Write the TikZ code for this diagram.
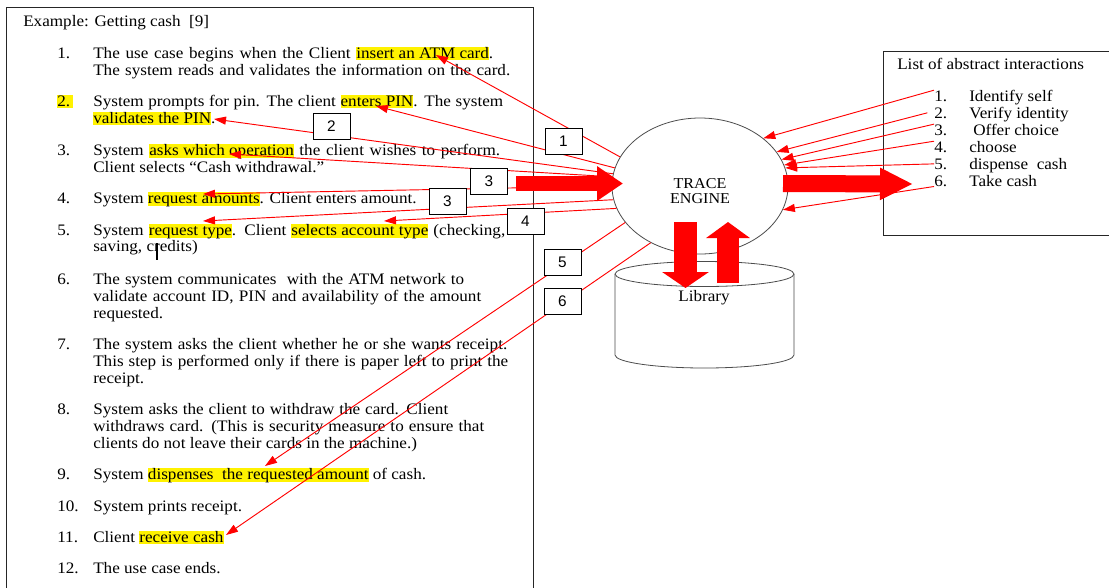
\documentclass[tikz,border=0pt]{standalone}
\usepackage{fontspec}
\setmainfont{Liberation Serif}[FakeStretch=1.07]
\setsansfont{Liberation Sans}
\usetikzlibrary{shapes.geometric,arrows.meta}
\newlength\pxu
\setlength\pxu{0.75pt}
\newcommand\hl[1]{{\setlength\fboxsep{0pt}\colorbox{yellow}{\rule[-1.8pt]{0pt}{10pt}#1}}}
\newcommand\jl[2]{\makebox[#1\pxu][s]{#2}}
\tikzset{
  txt/.style={anchor=base west,inner sep=0pt,font=\fontsize{12}{14}\selectfont},
  numbox/.style={draw,fill=white,line width=0.6pt,minimum width=27.75pt,minimum height=19.5pt,inner sep=0pt,font=\sffamily\fontsize{11.5}{12}\selectfont},
  trace/.style={draw=red,line width=0.7pt,-{Triangle[length=9pt,width=6pt]}},
  bigarrow/.style n args={3}{draw=red,line width=#1,-{Triangle[length=#2,width=#3]}}
}
\begin{document}
\begin{tikzpicture}[x=0.75pt,y=-0.75pt]
        \useasboundingbox (0,0) rectangle (1109,587);
        \draw[line width=0.75pt,black!85] (6,7) rectangle (533,600);
        \draw[line width=0.75pt,black!85] (883,51) rectangle (1120,235);
        \node[txt](title)at(23,26){Example: Getting cash\ \ [9]};
        \node[txt](n1)at(57,58){1.};
        \node[txt](s1a)at(93,58){\jl{400}{The use case begins when the Client \hl{insert an ATM card}.}};
        \node[txt](s1b)at(93,75){\jl{417}{The system reads and validates the information on the card.}};
        \node[txt](n2)at(57,106){\hl{2.\,}};
        \node[txt](s2a)at(93,106){\jl{410}{System prompts for pin. The client \hl{enters PIN}. The system}};
        \node[txt](s2b)at(93,123){\hl{validates the PIN}.};
        \node[txt](n3)at(57,155){3.};
        \node[txt](s3a)at(93,155){\jl{407}{System \hl{asks which operation} the client wishes to perform.}};
        \node[txt](s3b)at(93,172){Client selects ``Cash withdrawal.''};
        \node[txt](n4)at(57,203){4.};
        \node[txt](s4a)at(93,203){System \hl{request amounts}. Client enters amount.};
        \node[txt](n5)at(57,235){5.};
        \node[txt](s5a)at(93,235){\jl{412}{System \hl{request type}. Client \hl{selects account type} (checking,}};
        \node[txt](s5b)at(93,251){saving, credits)};
        \node[txt](n6)at(57,284){6.};
        \node[txt](s6a)at(93,284){\jl{371}{The system communicates\ \ with the ATM network to}};
        \node[txt](s6b)at(93,301){\jl{388}{validate account ID, PIN and availability of the amount}};
        \node[txt](s6c)at(93,318){requested.};
        \node[txt](n7)at(57,349){7.};
        \node[txt](s7a)at(93,349){\jl{414}{The system asks the client whether he or she wants receipt.}};
        \node[txt](s7b)at(93,366){\jl{415}{This step is performed only if there is paper left to print the}};
        \node[txt](s7c)at(93,383){receipt.};
        \node[txt](n8)at(57,414){8.};
        \node[txt](s8a)at(93,414){\jl{355}{System asks the client to withdraw the card. Client}};
        \node[txt](s8b)at(93,431){\jl{391}{withdraws card. (This is security measure to ensure that}};
        \node[txt](s8c)at(93,448){clients do not leave their cards in the machine.)};
        \node[txt](n9)at(57,479){9.};
        \node[txt](s9a)at(93,479){System \hl{dispenses\ \ the requested amount} of cash.};
        \node[txt](n10)at(57,511){10.};
        \node[txt](s10a)at(93,511){System prints receipt.};
        \node[txt](n11)at(57,542){11.};
        \node[txt](s11a)at(93,542){Client \hl{receive cash}};
        \node[txt](n12)at(57,573){12.};
        \node[txt](s12a)at(93,573){The use case ends.};
        \draw[line width=1.5pt] (157,243)--(157,260);
        \node[txt](list)at(897,69){List of abstract interactions};
        \node[txt](i1)at(934,101){1.};
        \node[txt](i2)at(934,118){2.};
        \node[txt](i3)at(934,135){3.};
        \node[txt](i4)at(934,152){4.};
        \node[txt](i5)at(934,169){5.};
        \node[txt](i6)at(934,186){6.};
        \node[txt](a1)at(969,101){Identify self};
        \node[txt](a2)at(969,118){Verify identity};
        \node[txt](a3)at(973,135){Offer choice};
        \node[txt](a4)at(969,152){choose};
        \node[txt](a5)at(969,169){dispense\ \ cash};
        \node[txt](a6)at(969,186){Take cash};
        \node[ellipse,draw=black!70,fill=white,line width=0.6pt,minimum width=132pt,minimum height=102pt,inner sep=0pt](engine)at(700,186){};
        \node[align=center,inner sep=0pt,font=\fontsize{11.3}{11.25}\selectfont](enginetxt)at(700,191){TRACE\\ENGINE};
        \draw[draw=black!70,fill=white,line width=0.6pt] (615,274)--(615,355) arc[start angle=180,end angle=0,x radius=89.5,y radius=13]--(794,274);
        \draw[draw=black!70,fill=white,line width=0.6pt] (704.5,274) ellipse[x radius=89.5,y radius=12.5];
        \node[inner sep=0pt,font=\fontsize{12}{14}\selectfont](lib)at(704,298){Library};
        \coordinate(tatm)at(436,55);
        \coordinate(tpin)at(376,106);
        \coordinate(tval)at(214,119);
        \coordinate(task)at(229,154);
        \coordinate(tamt)at(203,194);
        \coordinate(ttyp)at(203,221);
        \coordinate(tacc)at(384,221);
        \coordinate(tdis)at(265,466);
        \coordinate(trec)at(226,535);
        \draw[trace](engine.160)--(tatm);
        \draw[trace](engine.168)--(tpin);
        \draw[trace](engine.172)--(tval);
        \draw[trace](engine.174)--(task);
        \draw[trace](engine.180)--(tamt);
        \draw[trace](engine.189)--(ttyp);
        \draw[trace](engine.195)--(tacc);
        \draw[trace](engine.206)--(tdis);
        \draw[trace](engine.229)--(trec);
        \draw[trace](i1.north west)--(engine.37);
        \draw[trace]([xshift=-5pt]i2.west)--(engine.24);
        \draw[trace](i3.north west)--(engine.18);
        \draw[trace](i4.north west)--(engine.14);
        \draw[trace](i5.west)--(engine.12);
        \draw[trace](i6.south west)--(engine.344);
        \coordinate(inL)at(516,183.5);
        \coordinate(inR)at(623,183.5);
        \coordinate(outL)at(783,183.5);
        \coordinate(outR)at(913,184);
        \coordinate(getT)at(685.5,222);
        \coordinate(getB)at(685.5,288);
        \coordinate(putB)at(728,283);
        \coordinate(putT)at(728,222);
        \draw[bigarrow={11.25pt}{19.5pt}{24.75pt}](inL)--(inR);
        \draw[bigarrow={12.75pt}{24.75pt}{22.5pt}](outL)--(outR);
        \draw[bigarrow={17.25pt}{12pt}{34.5pt}](getT)--(getB);
        \draw[bigarrow={16.5pt}{12pt}{32.25pt}](putB)--(putT);
        \node[numbox](b1)at(563.5,141){1};
        \node[numbox](b2)at(331.5,126){2};
        \node[numbox](b3)at(489,181){3};
        \node[numbox](b3x)at(447.5,201){3};
        \node[numbox](b4)at(525.5,221.5){4};
        \node[numbox](b5)at(562.5,262){5};
        \node[numbox](b6)at(562.5,301.5){6};
    \end{tikzpicture}
\end{document}
